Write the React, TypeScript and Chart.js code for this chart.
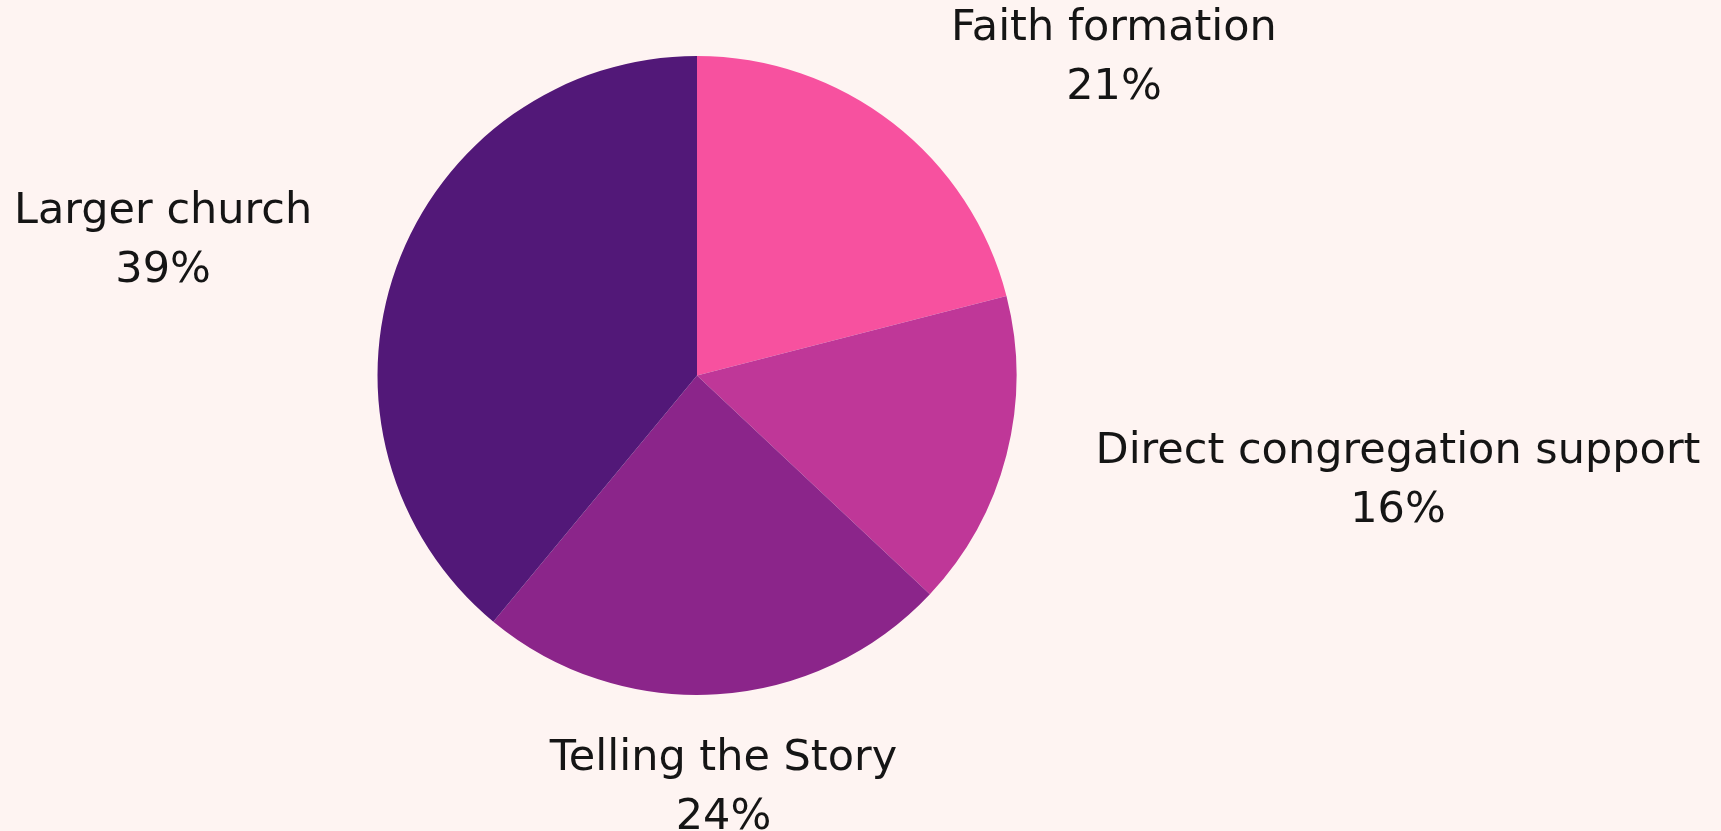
import React, { useEffect, useRef } from "react";
import { Chart, registerables } from "chart.js";

Chart.register(...registerables);

const CATEGORIES = ["Faith formation", "Direct congregation support", "Telling the Story", "Larger church"];
const VALUES = [21, 16, 24, 39];
const PERCENT_LABELS = ["21%", "16%", "24%", "39%"];
const COLORS = ["#F7519F", "#BF3798", "#8B258A", "#521878"];
// label anchor offsets from pie centre, in units of the pie radius (x centre, first baseline)
const LABEL_DX = [1.305, 2.194, 0.083, -1.671];
const LABEL_DY = [-1.05, 0.274, 1.235, -0.477];

const BG = "#FEF4F2";
const FONT = "43px 'DejaVu Sans'";
const LINE_GAP = 59;

const labelPlugin = {
  id: "outerLabels",
  afterDraw(chart: any) {
    const meta = chart.getDatasetMeta(0);
    const arc = meta.data[0];
    if (!arc) return;
    const { x, y, outerRadius } = arc.getProps(["x", "y", "outerRadius"], true);
    const ctx = chart.ctx;
    ctx.save();
    ctx.font = FONT;
    ctx.fillStyle = "#151515";
    ctx.textAlign = "center";
    ctx.textBaseline = "alphabetic";
    CATEGORIES.forEach((cat, i) => {
      const lx = x + LABEL_DX[i] * outerRadius;
      const ly = y + LABEL_DY[i] * outerRadius;
      ctx.fillText(cat, lx, ly);
      ctx.fillText(PERCENT_LABELS[i], lx, ly + LINE_GAP);
    });
    ctx.restore();
  },
};

export default function App() {
  const ref = useRef<HTMLCanvasElement | null>(null);
  useEffect(() => {
    document.body.style.margin = "0";
    document.body.style.background = BG;
    const canvas = ref.current;
    if (!canvas) return;
    const chart = new Chart(canvas, {
      type: "pie",
      data: {
        labels: CATEGORIES,
        datasets: [
          {
            data: VALUES,
            backgroundColor: COLORS,
            borderWidth: 0,
          },
        ],
      },
      options: {
        animation: false,
        responsive: false,
        maintainAspectRatio: false,
        layout: { padding: { top: 56, bottom: 136, left: 0, right: 327 } },
        plugins: {
          legend: { display: false },
          tooltip: { enabled: false },
        },
      },
      plugins: [labelPlugin],
    });
    return () => chart.destroy();
  }, []);
  return (
    <div style={{ width: 1721, height: 831, background: BG }}>
      <canvas ref={ref} width={1721} height={831} style={{ display: "block" }} />
    </div>
  );
}
